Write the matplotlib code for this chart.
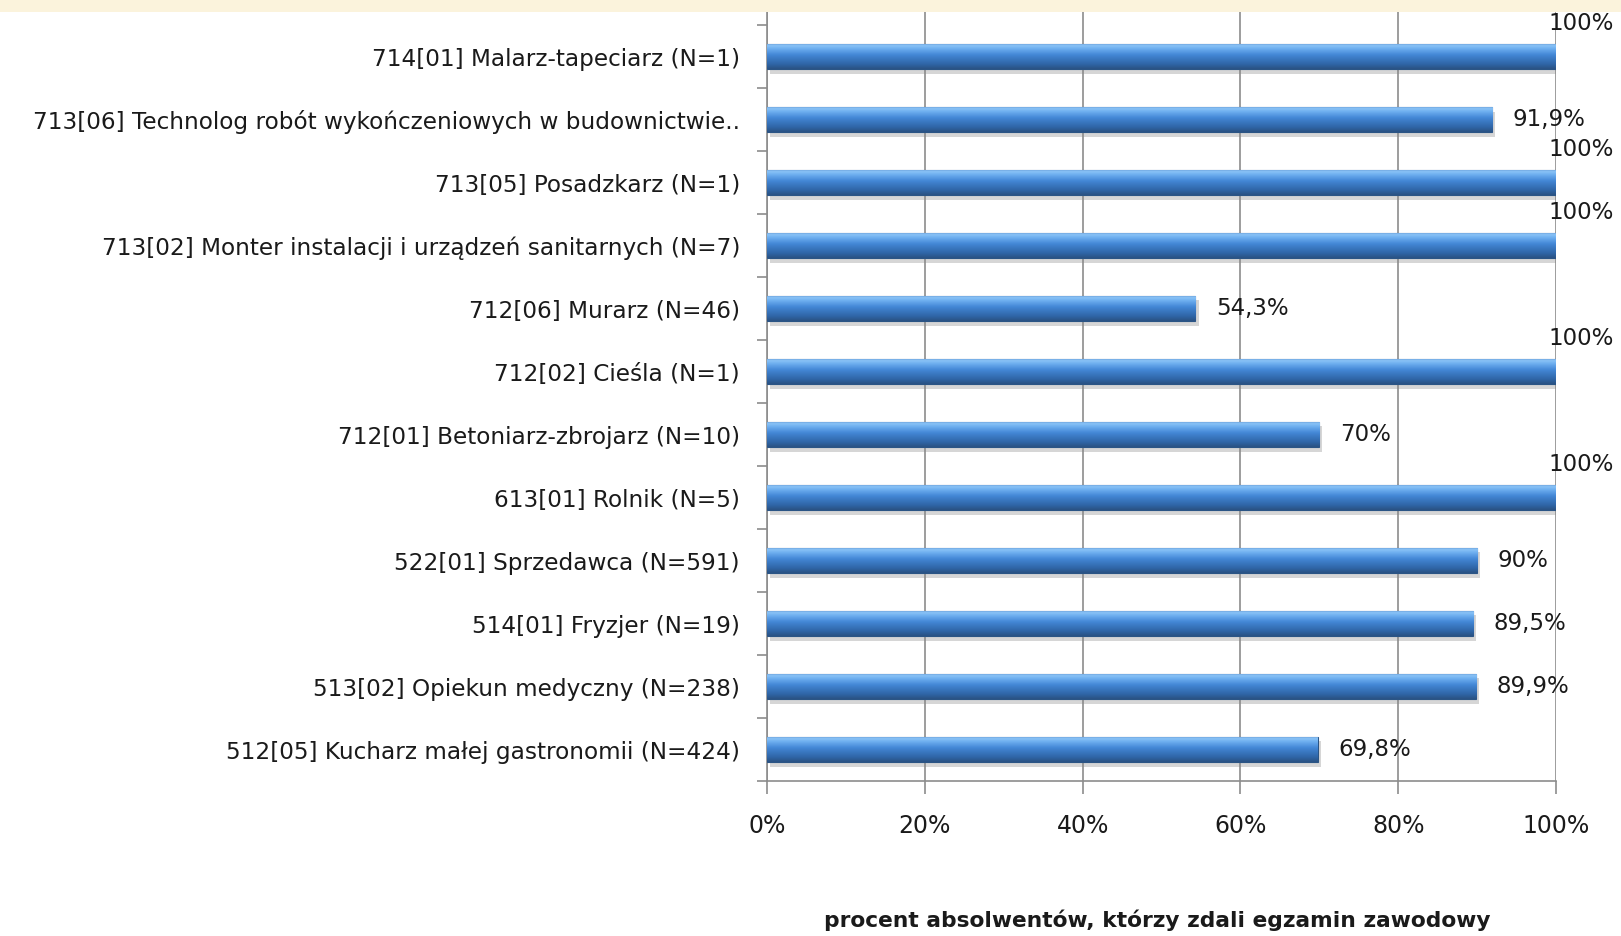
import matplotlib
matplotlib.use("Agg")
import matplotlib.pyplot as plt
import numpy as np
from matplotlib.colors import LinearSegmentedColormap
from matplotlib.ticker import FixedLocator, PercentFormatter

categories = [
    "714[01] Malarz-tapeciarz (N=1)",
    "713[06] Technolog robót wykończeniowych w budownictwie..",
    "713[05] Posadzkarz (N=1)",
    "713[02] Monter instalacji i urządzeń sanitarnych (N=7)",
    "712[06] Murarz (N=46)",
    "712[02] Cieśla (N=1)",
    "712[01] Betoniarz-zbrojarz (N=10)",
    "613[01] Rolnik (N=5)",
    "522[01] Sprzedawca (N=591)",
    "514[01] Fryzjer (N=19)",
    "513[02] Opiekun medyczny (N=238)",
    "512[05] Kucharz małej gastronomii (N=424)",
]
values = [100, 91.9, 100, 100, 54.3, 100, 70, 100, 90, 89.5, 89.9, 69.8]
value_labels = ["100%", "91,9%", "100%", "100%", "54,3%", "100%", "70%",
                "100%", "90%", "89,5%", "89,9%", "69,8%"]
x_ticks = [0, 20, 40, 60, 80, 100]
x_label = "procent absolwentów, którzy zdali egzamin zawodowy"

plt.rcParams['font.family'] = ['DejaVu Sans']

W, H = 1621, 936
fig = plt.figure(figsize=(W / 100, H / 100), dpi=100)
fig.patch.set_facecolor("white")

# cream band at top
fig.patches.append(plt.Rectangle((0, 1 - 12 / H), 1, 12 / H, transform=fig.transFigure,
                                 facecolor="#FBF3DC", edgecolor="none", zorder=0))

left, right = 767 / W, 1556 / W
top, bottom = 1 - 12 / H, 1 - 781 / H
ax = fig.add_axes([left, bottom, right - left, top - bottom])

n = len(categories)
ypos = np.arange(n)[::-1]
bh = 0.40

ax.set_xlim(0, 100)
ax.set_ylim(-0.5, n - 0.5 + 0.21)

cmap = LinearSegmentedColormap.from_list(
    "cyl", [(0.0, "#2A5283"), (0.18, "#2F65A6"), (0.55, "#4387D6"),
            (0.8, "#6FB0F0"), (0.92, "#8CC4F7"), (1.0, "#5C93CF")])
grad = np.linspace(0, 1, 64).reshape(-1, 1)

# shadows
ax.barh(ypos - 0.07, values, height=bh, left=0.4, color="#8A8A8A", alpha=0.35,
        edgecolor="none", zorder=2)
bars = ax.barh(ypos, values, height=bh, color="#4A8EDB", edgecolor="#2B5585",
               linewidth=0.8, zorder=3)
for b in bars:
    x0, y0 = b.get_x(), b.get_y()
    w, h = b.get_width(), b.get_height()
    im = ax.imshow(grad, cmap=cmap, origin="lower", aspect="auto",
                   extent=[x0, x0 + w, y0, y0 + h], zorder=3.5, interpolation="bicubic")
    im.set_clip_path(b)

fs = 16.5
for y, v, lab in zip(ypos, values, value_labels):
    if v >= 99.5:
        ax.text(v - 1.0, y + 0.52, lab, ha="left", va="center", fontsize=fs,
                color="#1a1a1a", zorder=5, clip_on=False)
    else:
        ax.text(v + 2.6, y, lab, ha="left", va="center", fontsize=fs,
                color="#1a1a1a", zorder=5)

# gridlines
ax.xaxis.set_major_locator(FixedLocator(x_ticks))
ax.xaxis.set_major_formatter(PercentFormatter(decimals=0))
ax.grid(axis="x", color="#8C8C8C", linewidth=1.2, zorder=0)
ax.set_axisbelow(True)

ax.set_yticks(ypos)
ax.set_yticklabels(categories, fontsize=fs + 0.2, color="#1a1a1a")
ax.tick_params(axis="y", length=0, pad=19.5)
ax.set_yticks(np.arange(-0.5, n, 1.0), minor=True)
ax.tick_params(axis="y", which="minor", length=7, color="#8C8C8C", width=1.2)
ax.tick_params(axis="x", length=9, color="#8C8C8C", width=1.2, labelsize=17,
               pad=15, labelcolor="#1a1a1a")

for s in ["top", "right"]:
    ax.spines[s].set_visible(False)
for s in ["left", "bottom"]:
    ax.spines[s].set_color("#8C8C8C")
    ax.spines[s].set_linewidth(1.2)

fig.text((left + right) / 2 - 4 / W, 1 - 920 / H, x_label, ha="center", va="center",
         fontsize=15.7, fontweight="bold", color="#1a1a1a")

fig.savefig("out.png", dpi=100, facecolor="white")
